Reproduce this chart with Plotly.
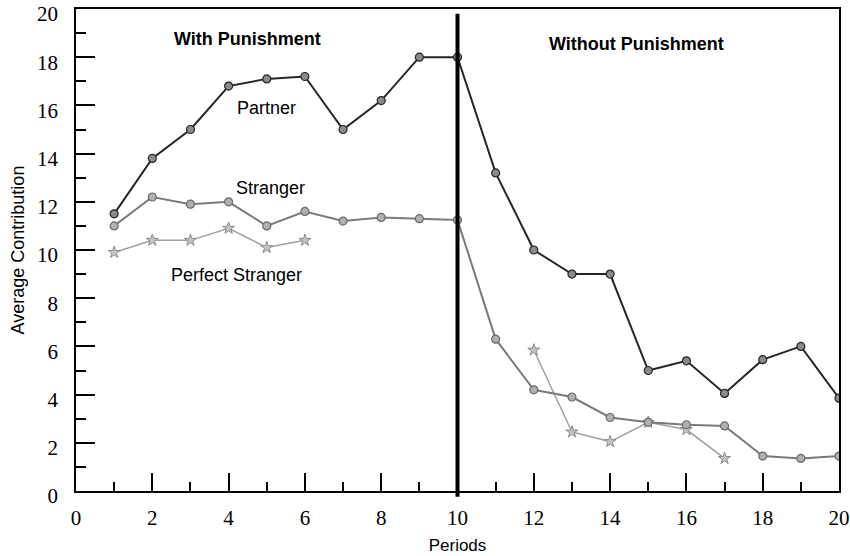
import plotly.graph_objects as go

periods = list(range(1, 21))
partner = [11.5, 13.8, 15.0, 16.8, 17.1, 17.2, 15.0, 16.2, 18.0, 18.0,
           13.2, 10.0, 9.0, 9.0, 5.0, 5.4, 4.05, 5.45, 6.0, 3.85]
stranger = [11.0, 12.2, 11.9, 12.0, 11.0, 11.6, 11.2, 11.35, 11.3, 11.25,
            6.3, 4.2, 3.9, 3.05, 2.85, 2.75, 2.7, 1.45, 1.35, 1.45]
ps_periods_a = [1, 2, 3, 4, 5, 6]
ps_values_a = [9.9, 10.4, 10.4, 10.9, 10.1, 10.4]
ps_periods_b = [12, 13, 14, 15, 16, 17]
ps_values_b = [5.85, 2.45, 2.05, 2.85, 2.55, 1.35]

x_ticks = list(range(0, 21, 2))
y_ticks = list(range(0, 21, 2))

fig = go.Figure()

ps_marker = dict(symbol="star", size=9, color="#c4c4c4", line=dict(color="#8c8c8c", width=1))
fig.add_trace(go.Scatter(x=ps_periods_a, y=ps_values_a, mode="lines+markers",
                         line=dict(color="#a0a0a0", width=1.5), marker=ps_marker,
                         showlegend=False))
fig.add_trace(go.Scatter(x=ps_periods_b, y=ps_values_b, mode="lines+markers",
                         line=dict(color="#a0a0a0", width=1.5), marker=ps_marker,
                         showlegend=False))
fig.add_trace(go.Scatter(x=periods, y=stranger, mode="lines+markers",
                         line=dict(color="#7a7a7a", width=2),
                         marker=dict(symbol="circle", size=8, color="#b0b0b0",
                                     line=dict(color="#6a6a6a", width=1.2)),
                         showlegend=False))
fig.add_trace(go.Scatter(x=periods, y=partner, mode="lines+markers",
                         line=dict(color="#262626", width=2),
                         marker=dict(symbol="circle", size=8, color="#8a8a8a",
                                     line=dict(color="#262626", width=1.2)),
                         showlegend=False))

fig.add_shape(type="line", xref="x", yref="paper", x0=10, x1=10, y0=-0.012, y1=0.99,
              line=dict(color="black", width=4))

ann_font = dict(family="Liberation Sans, Arial, sans-serif", size=18, color="black")
fig.add_annotation(x=4.5, y=18.75, text="<b>With Punishment</b>", showarrow=False, font=ann_font)
fig.add_annotation(x=14.7, y=18.55, text="<b>Without Punishment</b>", showarrow=False, font=ann_font)
fig.add_annotation(x=5.0, y=15.9, text="Partner", showarrow=False, font=ann_font)
fig.add_annotation(x=5.1, y=12.56, text="Stranger", showarrow=False, font=ann_font)
fig.add_annotation(x=4.22, y=8.97, text="Perfect Stranger", showarrow=False, font=ann_font)

tick_font = dict(family="Liberation Serif, Times New Roman, serif", size=21, color="black")

fig.update_layout(
    width=850, height=556,
    margin=dict(l=76, r=11, t=9, b=65),
    paper_bgcolor="white", plot_bgcolor="white",
    xaxis=dict(range=[0, 20], tickvals=x_ticks, ticktext=[str(v) for v in x_ticks],
               ticks="inside", ticklen=18, tickwidth=1.5, tickcolor="black",
               minor=dict(ticks="inside", ticklen=9, dtick=1, tickwidth=1.5, tickcolor="black", showgrid=False),
               showline=True, linecolor="black", linewidth=1.5, mirror=True,
               showgrid=False, zeroline=False, tickfont=tick_font, automargin=False,
               ticklabelstandoff=7, ticklabeloverflow="allow",
               title=dict(text="Periods", standoff=10,
                          font=dict(family="Liberation Sans, Arial, sans-serif", size=17, color="black"))),
    yaxis=dict(range=[0, 20], tickvals=y_ticks, ticktext=[str(v) for v in y_ticks],
               ticks="inside", ticklen=19, tickwidth=1.5, tickcolor="black",
               minor=dict(ticks="inside", ticklen=10, dtick=1, tickwidth=1.5, tickcolor="black", showgrid=False),
               showline=True, linecolor="black", linewidth=1.5, mirror=True,
               showgrid=False, zeroline=False, tickfont=tick_font, automargin=False,
               ticklabelstandoff=12, ticklabelshift=5, ticklabeloverflow="allow",
               title=dict(text="Average Contribution", standoff=8,
                          font=dict(family="Liberation Sans, Arial, sans-serif", size=18, color="black"))),
)

fig.write_html("out.html", config={"displayModeBar": False},
               post_script="document.body.style.margin='0';")
